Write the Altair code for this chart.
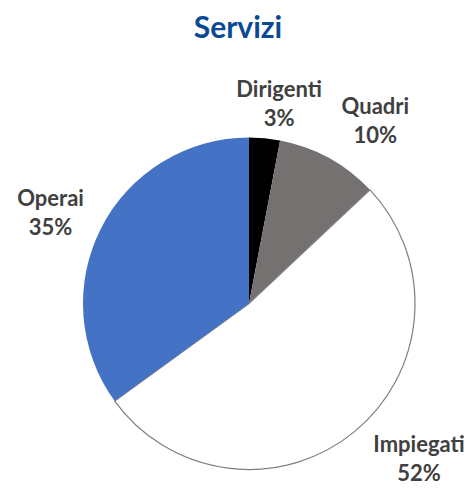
import altair as alt
import pandas as pd

categories = ["Dirigenti", "Quadri", "Impiegati", "Operai"]
values = [3, 10, 52, 35]
colors = ["#000000", "#767171", "#FFFFFF", "#4472C4"]

df = pd.DataFrame({
    "cat": categories,
    "val": values,
    "ord": list(range(len(categories))),
})
df["label"] = df["cat"] + "\n" + df["val"].astype(str) + "%"
total = sum(values)

# label placement style: (radius px, angular nudge in radians, vertical nudge px)
label_style = {
    "Dirigenti": (218, 0.044, 2),
    "Quadri": (235, 0.065, 2),
    "Impiegati": (224.7, -0.167, -5),
    "Operai": (225, 0.02, 2),
}

theta_scale = alt.Scale(domain=[0, total])

base = alt.Chart(df).transform_stack(
    stack="val", groupby=[], as_=["v0", "v1"], sort=[alt.SortField("ord")]
).transform_calculate(mid="(datum.v0 + datum.v1) / 2")

arcs = base.mark_arc(outerRadius=166, yOffset=30).encode(
    theta=alt.Theta("v0:Q", scale=theta_scale),
    theta2="v1:Q",
    color=alt.Color("cat:N", scale=alt.Scale(domain=categories, range=colors), legend=None),
    stroke=alt.condition(alt.datum.cat == "Impiegati", alt.value("#7F7F7F"), alt.value(None)),
    strokeWidth=alt.condition(alt.datum.cat == "Impiegati", alt.value(1.2), alt.value(0)),
)

layers = [arcs]
for cat in categories:
    r, off, ddy = label_style[cat]
    layers.append(
        base.transform_filter(alt.datum.cat == cat).mark_text(
            radius=r, thetaOffset=off, yOffset=30, dy=ddy, font="Lato", fontWeight="bold",
            fontSize=22, color="#404040", lineBreak="\n", lineHeight=29,
            align="center", baseline="middle",
        ).encode(
            theta=alt.Theta("mid:Q", scale=theta_scale),
            text="label:N",
        )
    )

chart = alt.layer(*layers).properties(
    width=438,
    height=427,
    title=alt.TitleParams("Servizi", font="Lato", fontSize=30, fontWeight="bold",
                          color="#0B4A92", anchor="middle", offset=16, dx=-11),
    autosize=alt.AutoSizeParams(type="none"),
    padding={"left": 22, "top": 52, "right": 0, "bottom": 0},
).configure_view(stroke=None)

chart.save("out.html", embed_options={"renderer": "svg", "actions": False})
